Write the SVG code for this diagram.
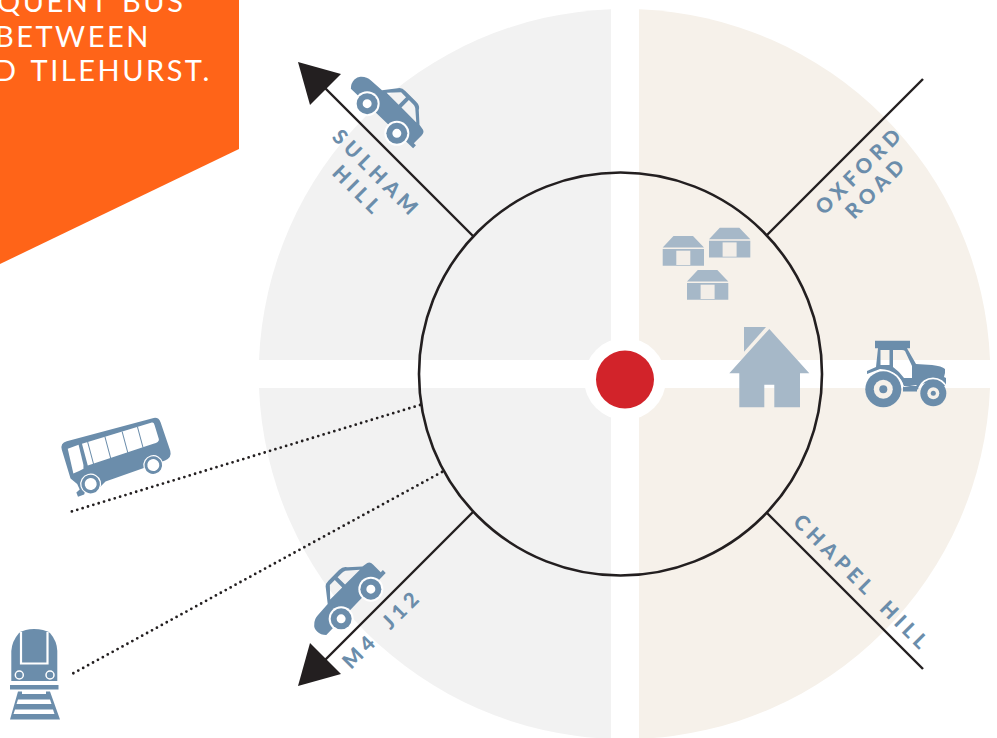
<svg xmlns="http://www.w3.org/2000/svg" xmlns:xlink="http://www.w3.org/1999/xlink" width="997" height="738" viewBox="0 0 997 738">
<style>
.gray{fill:#f2f2f2}.beige{fill:#f6f1ea}
.road{fill:none;stroke:#231f20;stroke-width:2.4}
.dot{fill:none;stroke:#231f20;stroke-width:2.8;stroke-linecap:round;stroke-dasharray:0 5.6}
.head{fill:#231f20}
.ic{fill:#6b8dab}.lt{fill:#a6b8c8}
.lbl{font-family:Lato,"Liberation Sans",sans-serif;font-weight:900;font-size:20.500px;letter-spacing:4.700px;word-spacing:6px;fill:#6b8dab}
.ban{font-family:Lato,"Liberation Sans",sans-serif;font-weight:400;font-size:29px;letter-spacing:2.500px;word-spacing:3px;fill:#fff}
</style>
<defs>
<g id="car">
<path class="ic" fill-rule="evenodd" d="M-47,-8Q-47,-13 -44,-15Q-40,-19 -35,-19L-20,-20L-9,-34Q-7,-36 -3,-36L12,-36Q18,-36 20,-32L31,-22L37,-21Q40,-20 40,-16L40,-5L43,-5L43,-1L-43,1Q-47,-3 -47,-8ZM-15,-21.500L2,-21.500L2,-32L-5,-32ZM6,-21.500L27,-21.500L16,-31Q14,-32 12,-32L6,-32Z"/>
<circle cx="-21" cy="0" r="12.500" fill="#fff"/><circle cx="21" cy="0" r="12.500" fill="#fff"/>
<circle cx="-21" cy="0" r="10.500" class="ic"/><circle cx="21" cy="0" r="10.500" class="ic"/>
<circle cx="-21" cy="0" r="4.500" fill="#fff"/><circle cx="21" cy="0" r="4.500" fill="#fff"/>
</g>
<g id="barn">
<path class="lt" d="M662.700,247.500L673.500,236H693L704,247.500ZM662.700,249H704V265.700H662.700Z"/>
<rect x="676.300" y="250.700" width="14" height="14.300" fill="#f3eee8"/>
</g>
</defs>

<g id="background">
<path class="gray" d="M611,360H259A365.500,365.500 0 0 1 611,9.300Z"/>
<path class="gray" d="M611,388H259A365.500,365.500 0 0 0 611,738.800Z"/>
<path class="beige" d="M639,360H990A365.500,365.500 0 0 0 639,9.300Z"/>
<path class="beige" d="M639,388H990A365.500,365.500 0 0 1 639,738.800Z"/>
</g>

<g id="banner">
<path d="M0,0H239V149L0,264Z" fill="#ff6418"/>
<text class="ban" x="-3" y="12">QUENT BUS</text>
<text class="ban" x="-5" y="47">BETWEEN</text>
<text class="ban" x="-6" y="81">D TILEHURST.</text>
</g>

<g id="connectors">
<path class="road" d="M473,236L322,85"/>
<path class="road" d="M473,512L322,663"/>
<path class="road" d="M767,235L923,79"/>
<path class="road" d="M767,513L923,669"/>
<path class="dot" d="M420,405L70,512"/>
<path class="dot" d="M442,472L72,674"/>
<path class="head" d="M298,62L341,74L310,105Z"/>
<path class="head" d="M298,686L341,674L310,643Z"/>
</g>

<g id="centre">
<circle cx="620.500" cy="374" r="201.500" fill="none" stroke="#231f20" stroke-width="2.600"/>
<circle cx="625" cy="379" r="41" fill="#fff"/>
<circle cx="625" cy="379.500" r="29" fill="#d2232a"/>
</g>

<g id="sulham-hill">
<use xlink:href="#car" href="#car" transform="translate(382,118.500) rotate(45)"/>
<text class="lbl" transform="translate(331,138) rotate(45)">SULHAM</text>
<text class="lbl" transform="translate(331,174) rotate(45)">HILL</text>
</g>

<g id="m4-j12">
<use xlink:href="#car" href="#car" transform="translate(356,604) rotate(-45)"/>
<text class="lbl" transform="translate(351,670) rotate(-45)">M4 J12</text>
</g>

<g id="oxford-road">
<text class="lbl" transform="translate(824,216) rotate(-45)">OXFORD</text>
<text class="lbl" transform="translate(854,220) rotate(-45)">ROAD</text>
</g>

<g id="chapel-hill">
<text class="lbl" transform="translate(792,523) rotate(45)">CHAPEL HILL</text>
</g>

<g id="barns">
<use xlink:href="#barn" href="#barn"/>
<use xlink:href="#barn" href="#barn" x="46.300" y="-8.300"/>
<use xlink:href="#barn" href="#barn" x="24.300" y="34"/>
</g>

<g id="house">
<path class="lt" d="M744,327H766L744,351.700Z"/>
<path class="lt" d="M769.300,329L809.300,373.300H800V407.300H774.300V384.700H764.300V407.300H739.300V373.300H729.300Z"/>
</g>

<g id="tractor">
<path class="ic" fill-rule="evenodd" d="M875,340.700H910V348.300H907L916,364L932,365Q942,366 945,369V373L944,377L946,378V386H937Q931,380 922,384L917,390H903V386H917L916,385L904,387Q902,380 897,375Q890,369 880,369L867,374V371L876,367L878,348.300H875ZM880.500,350V365H889.500V350ZM893,350V367Q900,372 904,378L912,378V366L905,351Q904,350 902,350Z"/>
<path class="ic" d="M903,388H917V391.500H903Z"/>
<path d="M864,387A20,20 0 0 1 903,387" fill="none" stroke="#fff" stroke-width="1.800"/>
<path d="M919,388A15,15 0 0 1 947,388" fill="none" stroke="#fff" stroke-width="1.800"/>
<circle cx="883.300" cy="389.300" r="18" class="ic"/>
<circle cx="883.300" cy="389.300" r="9.500" fill="#f6f1ea"/>
<circle cx="883.300" cy="389.300" r="4" class="ic"/>
<circle cx="933.300" cy="393.300" r="13" class="ic"/>
<circle cx="933.300" cy="393.300" r="6" fill="#f6f1ea"/>
<circle cx="933.300" cy="393.300" r="2.500" class="ic"/>
</g>

<g id="bus" transform="translate(60,443) rotate(-15)">
<path class="ic" d="M7,0H96Q102,0 102.500,6L104.500,36Q104.500,43 97,44L34,49L27,53L12,53L10,56L3.500,56.500L3,52L7,50L6,44L1,37L0,7Q0,0 7,0Z"/>
<path fill="#fff" d="M6,7.500L17.500,6.500L17,27L16,31Q10,32.500 5,33Z"/>
<path fill="#fff" d="M21,6.500L94,4Q96,4 96,7L96.500,22Q96,25 90,25L21,29Z"/>
<g stroke="#6b8dab" stroke-width="1" fill="none"><path d="M27,6V29M45,5.500V28M63,5V27M79,4.500V26"/></g>
<circle cx="19" cy="47.600" r="10.500" fill="#fff"/><circle cx="84.400" cy="45.500" r="10" fill="#fff"/>
<circle cx="19" cy="47.600" r="9.300" class="ic"/><circle cx="84.400" cy="45.500" r="8.800" class="ic"/>
<circle cx="19" cy="47.600" r="6" fill="#fff"/><circle cx="84.400" cy="45.500" r="6" fill="#fff"/>
</g>

<g id="train">
<path class="ic" d="M11.300,681V651Q12,641 19,633Q25,629 34,629Q44,629 50,633Q57,641 57.300,651V681Z"/>
<path d="M21,632V663.500H47.500V632" fill="none" stroke="#fff" stroke-width="2.200"/>
<circle cx="19.300" cy="675" r="4" fill="#6b8dab" stroke="#fff" stroke-width="1.500"/>
<circle cx="50" cy="675" r="4" fill="#6b8dab" stroke="#fff" stroke-width="1.500"/>
<rect x="10" y="685" width="48.500" height="4.500" class="ic"/>
<path class="ic" d="M18,691.500H22V694H46V691.500H50L60,719.500H10Z"/>
<path fill="#fff" d="M18,699.500H50L51.500,704H16.500ZM15,709.500H53L54.500,714H13.500Z"/>
</g>
</svg>
